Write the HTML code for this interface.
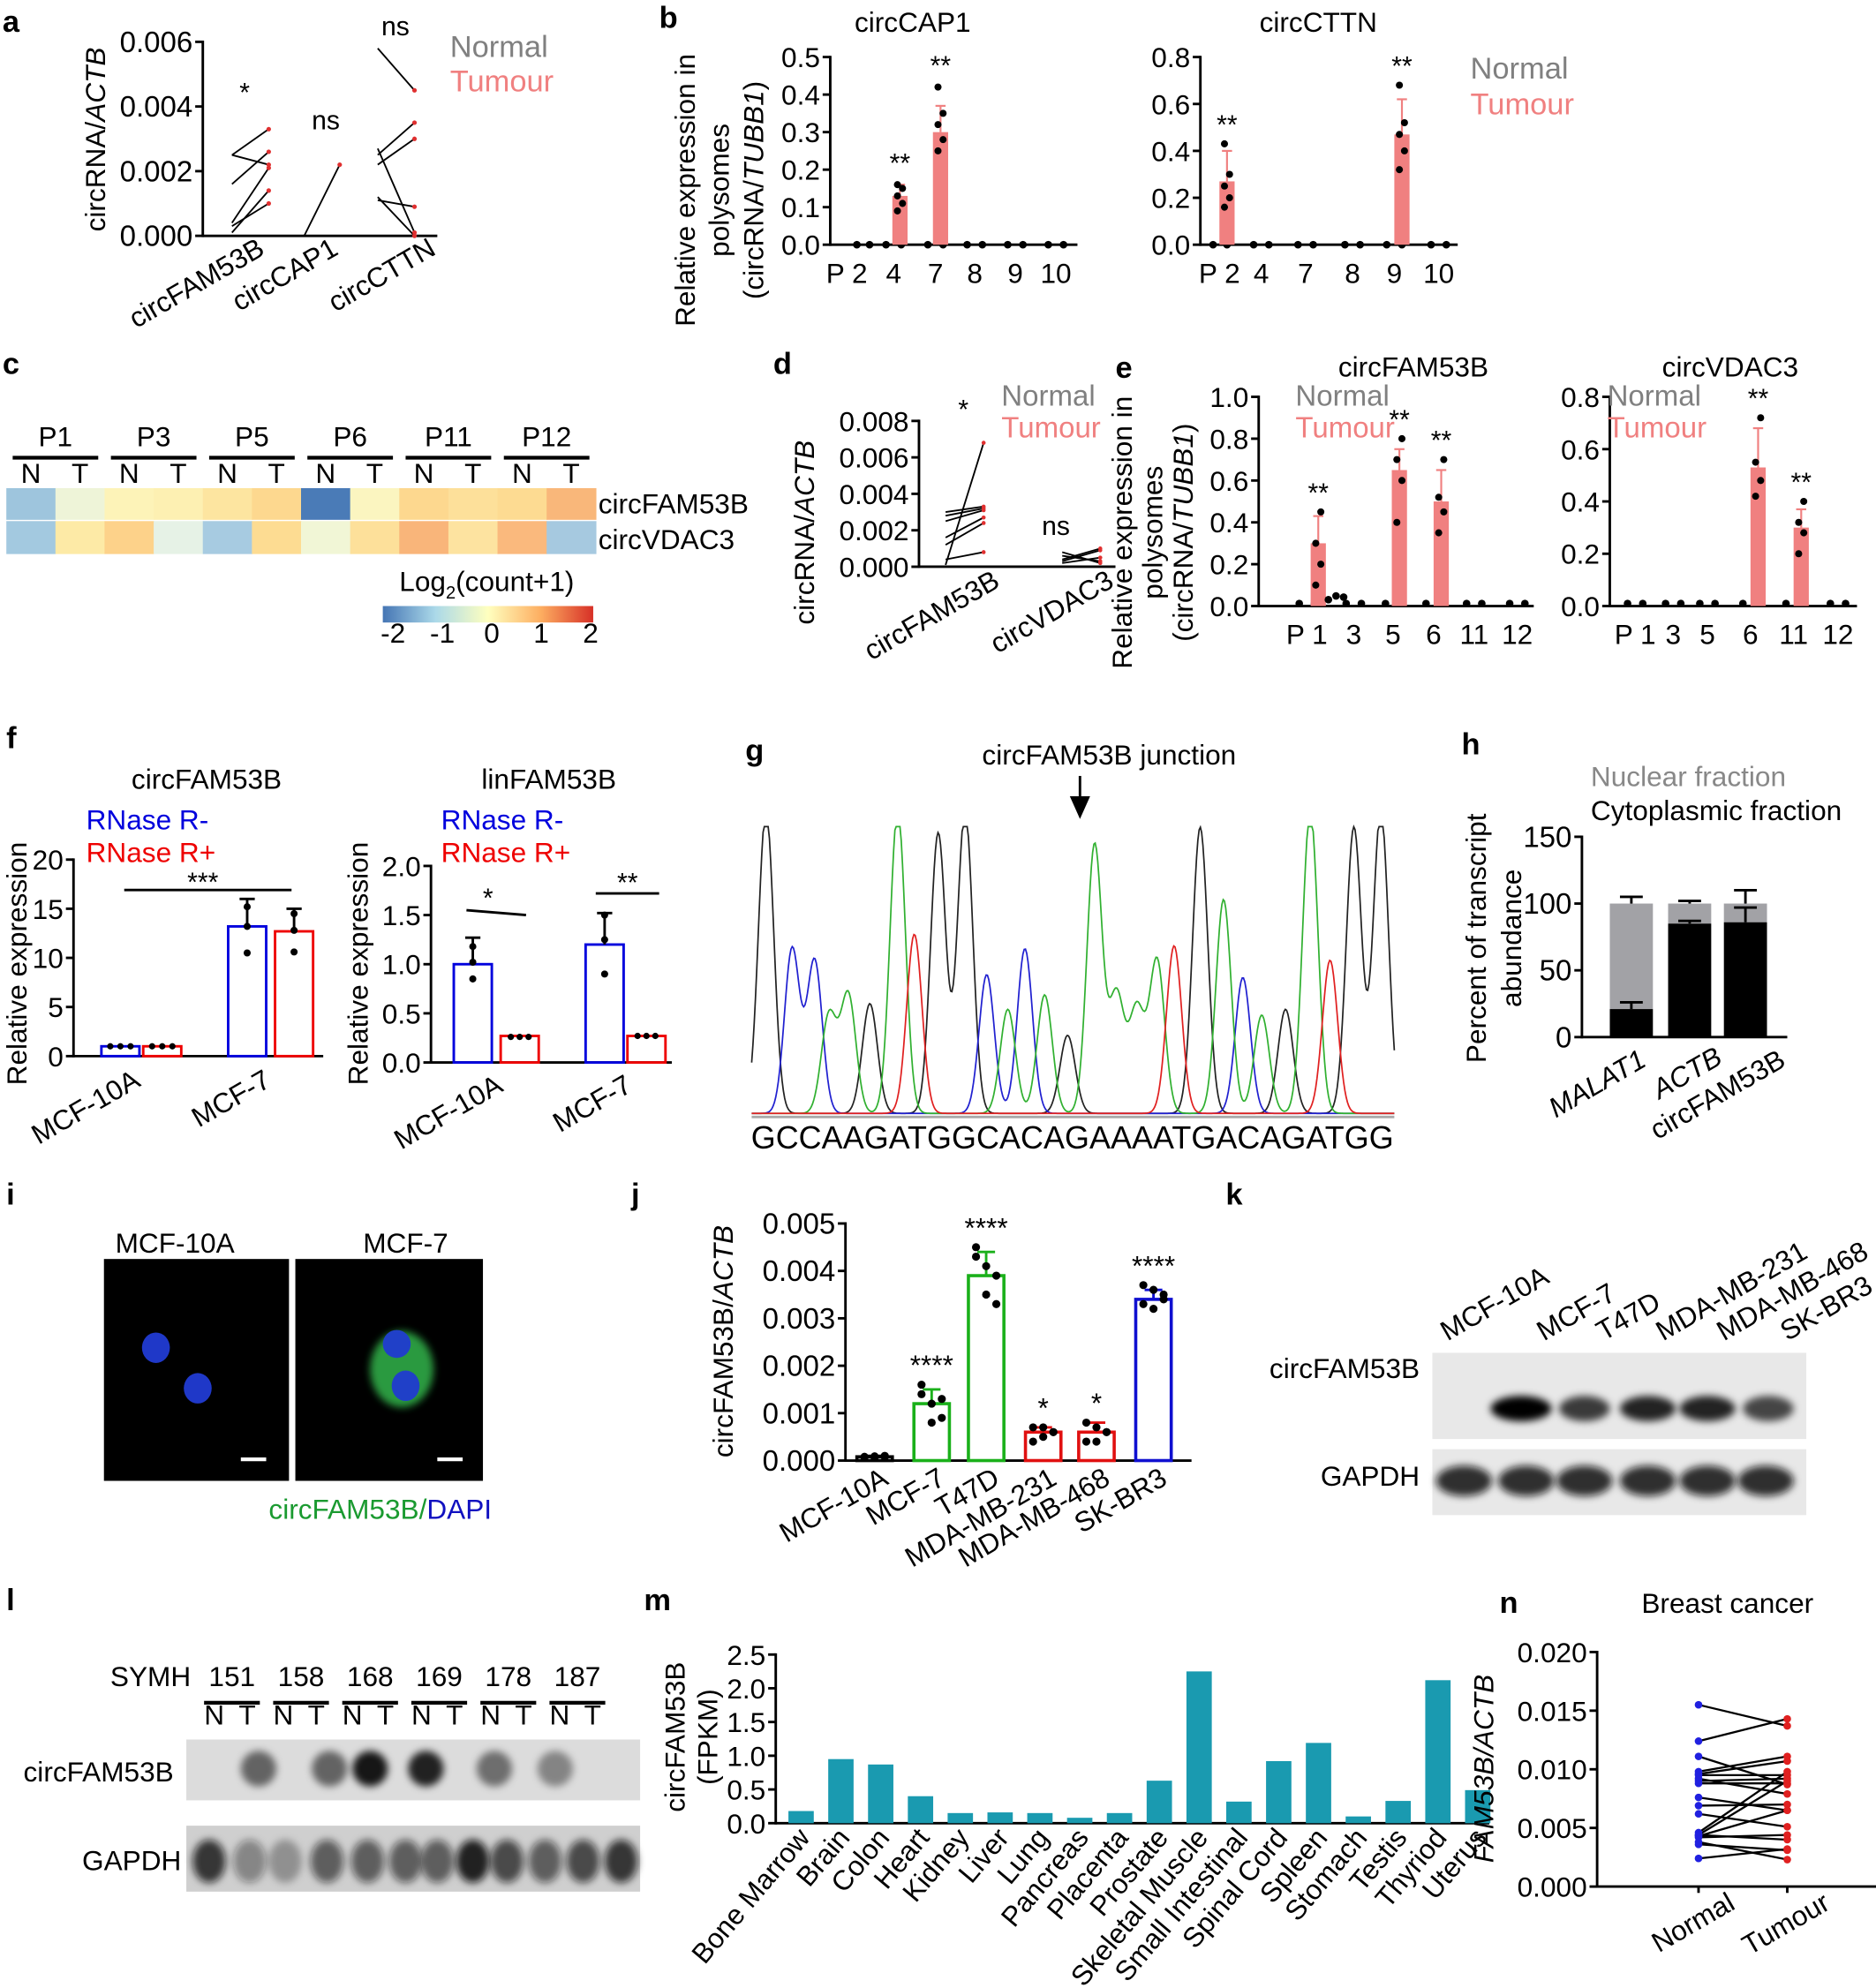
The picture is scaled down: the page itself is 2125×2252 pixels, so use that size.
<!DOCTYPE html>
<html><head><meta charset="utf-8">
<style>
html,body{margin:0;padding:0;background:#fff;width:2125px;height:2252px;overflow:hidden}
svg{display:block}
text{font-family:"Liberation Sans",Arial,sans-serif;fill:#000}
</style></head>
<body>
<svg id="s" xmlns="http://www.w3.org/2000/svg" width="2125" height="2252" viewBox="0 0 1480 1568" preserveAspectRatio="none">
<defs>
<filter id="bl" x="-50%" y="-50%" width="200%" height="200%"><feGaussianBlur stdDeviation="5"/></filter>
<filter id="bl2" x="-50%" y="-50%" width="200%" height="200%"><feGaussianBlur stdDeviation="3"/></filter>
<linearGradient id="cb" x1="0" x2="1" y1="0" y2="0">
<stop offset="0" stop-color="#4575b4"/><stop offset="0.25" stop-color="#abd9e9"/><stop offset="0.5" stop-color="#ffffbf"/><stop offset="0.75" stop-color="#fdae61"/><stop offset="1" stop-color="#d73027"/></linearGradient>
</defs>
<g id="g"></g>
<g font-size="24" font-weight="bold">
<text x="2" y="25">a</text><text x="520" y="22">b</text><text x="2" y="295">c</text><text x="610" y="295">d</text><text x="880" y="298">e</text>
<text x="5" y="590">f</text><text x="588" y="600">g</text><text x="1153" y="595">h</text><text x="5" y="950">i</text><text x="498" y="950">j</text><text x="967" y="950">k</text><text x="5" y="1270">l</text><text x="508" y="1270">m</text><text x="1183" y="1272">n</text>
</g>
</svg>
<script>
var G=document.getElementById('g'),NS='http://www.w3.org/2000/svg';
function el(t,a,txt){var e=document.createElementNS(NS,t);for(var k in a)e.setAttribute(k,a[k]);if(txt!==undefined)e.textContent=txt;G.appendChild(e);return e;}
function L(x1,y1,x2,y2,c,w){el('line',{x1:x1,y1:y1,x2:x2,y2:y2,stroke:c||'#000','stroke-width':w||2});}
function R(x,y,w,h,f,s,sw){el('rect',{x:x,y:y,width:w,height:h,fill:f||'none',stroke:s||'none','stroke-width':sw||0});}
function T(x,y,s,o){o=o||{};var a={x:x,y:y,'font-size':o.fs||21};if(o.a)a['text-anchor']=o.a;if(o.c)a.style='fill:'+o.c;if(o.r!==undefined)a.transform='rotate('+o.r+' '+x+' '+y+')';if(o.it)a['font-style']='italic';var e=el('text',a);e.innerHTML=s;return e;}
function C(x,y,r,f){el('circle',{cx:x,cy:y,r:r||3,fill:f||'#000'});}
function yax(x,yTop,yBot,labels,fs){L(x,yTop-1,x,yBot+1);var n=labels.length-1;for(var i=0;i<=n;i++){var y=yBot-(yBot-yTop)*i/n;L(x-6,y,x,y);T(x-8,y+8,labels[i],{a:'end',fs:fs||22});}}
var PINK='#f08080',GR='#808080';

// ---------- a ----------
yax(160,33,186,['0.000','0.002','0.004','0.006'],23);L(160,186,345,186);
T(83,110,'circRNA/<tspan font-style="italic">ACTB</tspan>',{a:'middle',r:-90,fs:22});
function ay(v){return 186-v/0.006*153;}
[[.0025,.0022],[.0025,.0033],[.0016,.0026],[.0004,.0021],[.0003,.0010],[.0001,.0014]].forEach(function(p){L(183,ay(p[0]),212,ay(p[1]),'#000',1.3);C(212,ay(p[1]),1.8,'#e03030');});
L(240,186,268,ay(.0022),'#000',1.3);C(268,ay(.0022),1.8,'#e03030');
[[.0058,.0045],[.0025,.0035],[.0022,.0030],[.0011,.0009],[.0012,.0000],[.0027,.0001]].forEach(function(p){L(298,ay(p[0]),327,ay(p[1]),'#000',1.3);C(327,ay(p[1]),1.8,'#e03030');});
T(193,80,'*',{a:'middle'});T(257,102,'ns',{a:'middle'});T(312,28,'ns',{a:'middle'});
T(355,45,'Normal',{c:GR,fs:24});T(355,72,'Tumour',{c:PINK,fs:24});
T(210,200,'circFAM53B',{a:'end',r:-30,fs:22});T(268,200,'circCAP1',{a:'end',r:-30,fs:22});T(345,200,'circCTTN',{a:'end',r:-30,fs:22});

// ---------- b ----------
T(548,150,'Relative expression in',{a:'middle',r:-90,fs:22});T(575,150,'polysomes',{a:'middle',r:-90,fs:22});
T(602,150,'(circRNA/<tspan font-style="italic">TUBB1</tspan>)',{a:'middle',r:-90,fs:22});
function by(yT,yB,max,v){return yB-(yB-yT)*v/max;}
(function(){var yT=45,yB=193,max=.5;yax(655,yT,yB,['0.0','0.1','0.2','0.3','0.4','0.5']);L(655,yB,850,yB);
 T(720,25,'circCAP1',{a:'middle',fs:22});
 var cats=[[668,'P 2'],[705,'4'],[738,'7'],[769,'8'],[801,'9'],[833,'10']];
 cats.forEach(function(c,i){var xn=c[0]-6,xt=c[0]+6;if(i==0){xn=676;xt=686;}C(xn,yB,3);C(xt,yB,3);T(c[0],yB+30,c[1],{a:'middle',fs:22});});
 [[710,.13,.16,[.09,.11,.13,.15,.16]],[742,.3,.37,[.25,.28,.32,.35,.42]]].forEach(function(b){var y=by(yT,yB,max,b[1]);R(b[0]-6,y,12,yB-y,PINK);L(b[0],y,b[0],by(yT,yB,max,b[2]),PINK,1.5);L(b[0]-4,by(yT,yB,max,b[2]),b[0]+4,by(yT,yB,max,b[2]),PINK,1.5);b[3].forEach(function(v,j){C(b[0]+(j%2?2:-2),by(yT,yB,max,v),2.8);});T(b[0],Math.min(by(yT,yB,max,b[2]),by(yT,yB,max,b[3][4]))-10,'**',{a:'middle'});});
})();
(function(){var yT=45,yB=193,max=.8;yax(947,yT,yB,['0.0','0.2','0.4','0.6','0.8']);L(947,yB,1150,yB);
 T(1040,25,'circCTTN',{a:'middle',fs:22});
 var cats=[[962,'P 2'],[995,'4'],[1030,'7'],[1067,'8'],[1100,'9'],[1135,'10']];
 cats.forEach(function(c,i){var xn=c[0]-6,xt=c[0]+6;if(i==0){xn=957;xt=968;}C(xn,yB,3);C(xt,yB,3);T(c[0],yB+30,c[1],{a:'middle',fs:22});});
 [[968,.27,.4,[.16,.2,.25,.3,.43]],[1106,.47,.62,[.32,.4,.47,.52,.68]]].forEach(function(b){var y=by(yT,yB,max,b[1]);R(b[0]-6,y,12,yB-y,PINK);L(b[0],y,b[0],by(yT,yB,max,b[2]),PINK,1.5);L(b[0]-4,by(yT,yB,max,b[2]),b[0]+4,by(yT,yB,max,b[2]),PINK,1.5);b[3].forEach(function(v,j){C(b[0]+(j%2?2:-2),by(yT,yB,max,v),2.8);});T(b[0],Math.min(by(yT,yB,max,b[2]),by(yT,yB,max,b[3][4]))-8,'**',{a:'middle'});});
 T(1160,62,'Normal',{c:GR,fs:24});T(1160,90,'Tumour',{c:PINK,fs:24});
})();

// ---------- c heatmap ----------
var r1=['#9ec5dd','#eef4d8','#fdf3b8','#fdf0b2','#fde5a0','#fdd88f','#4a7bb7','#fbf5c0','#fdd88f','#fde09a','#fddb92','#f9b77a'];
var r2=['#a3c9e0','#fdeaa6','#fdd28a','#e6f2e6','#a7cbe1','#fddc92','#f1f6d6','#fde09a','#f9b57a','#fde3a0','#fab97d','#a6c9e0'];
var cw=465/12;
for(var i=0;i<12;i++){R(5+i*cw,385,cw+.5,25,r1[i]);R(5+i*cw,411,cw+.5,26,r2[i]);T(5+i*cw+cw/2,381,i%2?'T':'N',{a:'middle',fs:22});}
['P1','P3','P5','P6','P11','P12'].forEach(function(p,i){T(5+(2*i+1)*cw,352,p,{a:'middle',fs:22});L(10+2*i*cw,361,2*(i+1)*cw,361,'#000',3);});
T(472,405,'circFAM53B',{fs:22});T(472,433,'circVDAC3',{fs:22});
T(315,466,'Log<tspan font-size="14" dy="6">2</tspan><tspan dy="-6">(count+1)</tspan>',{fs:22});
el('rect',{x:302,y:478,width:166,height:13,fill:'url(#cb)'});
['-2','-1','0','1','2'].forEach(function(t,i){T(310+i*39,507,t,{a:'middle',fs:22});});

// ---------- d ----------
yax(725,332,447,['0.000','0.002','0.004','0.006','0.008']);L(725,447,880,447);
T(642,420,'circRNA/<tspan font-style="italic">ACTB</tspan>',{a:'middle',r:-90,fs:22});
function dy(v){return 447-v/0.008*115;}
[[.0001,.0068],[.0028,.0032],[.003,.0033],[.0025,.0031],[.0012,.0024],[.0016,.0027],[.0004,.0008]].forEach(function(p){L(746,dy(p[0]),776,dy(p[1]),'#000',1.3);C(776,dy(p[1]),1.6,'#e03030');});
[[.0003,.0009],[.0008,.0002],[.0004,.0010],[.0002,.0005],[.0006,.0003]].forEach(function(p){L(838,dy(p[0]),868,dy(p[1]),'#000',1.3);C(868,dy(p[1]),1.6,'#e03030');});
T(760,330,'*',{a:'middle'});T(833,422,'ns',{a:'middle'});
T(790,320,'Normal',{c:GR,fs:23});T(790,345,'Tumour',{c:PINK,fs:23});
T(790,462,'circFAM53B',{a:'end',r:-30,fs:22});T(880,462,'circVDAC3',{a:'end',r:-30,fs:22});

// ---------- e ----------
T(893,420,'Relative expression in',{a:'middle',r:-90,fs:22});T(917,420,'polysomes',{a:'middle',r:-90,fs:22});
T(941,420,'(circRNA/<tspan font-style="italic">TUBB1</tspan>)',{a:'middle',r:-90,fs:22});
function ePanel(x0,xEnd,max,labels,cats,bars,title,tx,lx){var yT=313,yB=478;yax(x0,yT,yB,labels,22);L(x0,yB,xEnd,yB);
 T(tx,297,title,{a:'middle',fs:22});T(lx,320,'Normal',{c:GR,fs:23});T(lx,345,'Tumour',{c:PINK,fs:23});
 cats.forEach(function(c){C(c[0]-6,yB-2,3);C(c[0]+6,yB-2,3);T(c[0],yB+30,c[1],{a:'middle',fs:22});});
 bars.forEach(function(b){var y=by(yT,yB,max,b[1]);R(b[0]-6,y,12,yB-y,PINK);var ye=by(yT,yB,max,b[2]);L(b[0],y,b[0],ye,PINK,1.5);L(b[0]-4,ye,b[0]+4,ye,PINK,1.5);b[3].forEach(function(v,j){C(b[0]+(j%2?2:-2),by(yT,yB,max,v),2.8);});T(b[0],Math.min(ye,by(yT,yB,max,b[3][b[3].length-1]))-8,'**',{a:'middle'});});}
ePanel(993,1210,1.0,['0.0','0.2','0.4','0.6','0.8','1.0'],[[1031,'P 1'],[1068,'3'],[1099,'5'],[1131,'6'],[1163,'11'],[1197,'12']],
 [[1040,.3,.43,[.1,.2,.3,.45]],[1104,.65,.75,[.4,.6,.7,.8]],[1137,.5,.65,[.35,.45,.52,.7]]],'circFAM53B',1115,1022);
ePanel(1270,1465,0.8,['0.0','0.2','0.4','0.6','0.8'],[[1290,'P 1'],[1320,'3'],[1347,'5'],[1381,'6'],[1415,'11'],[1450,'12']],
 [[1387,.53,.68,[.42,.48,.55,.72]],[1421,.3,.37,[.2,.28,.32,.4]]],'circVDAC3',1365,1268);
C(1054,470,3);C(1048,473,3);C(1060,471,3);

// ---------- f ----------
(function(){var yT=678,yB=833;yax(58,yT,yB,['0','5','10','15','20'],22);L(58,yB,255,yB);
 T(21,760,'Relative expression',{a:'middle',r:-90,fs:22});T(163,622,'circFAM53B',{a:'middle',fs:22});
 T(68,654,'RNase R-',{c:'#0000dd',fs:22});T(68,680,'RNase R+',{c:'#ee0000',fs:22});
 function v(x){return yB-x/20*(yB-yT);}
 R(80,v(1),30,yB-v(1),'none','#0000dd',2);R(113,v(1),30,yB-v(1),'none','#ee0000',2);
 [87,95,103].forEach(function(x){C(x,v(1),2.5);});[120,128,136].forEach(function(x){C(x,v(1),2.5);});
 R(180,v(13.2),30,yB-v(13.2),'none','#0000dd',2);R(217,v(12.7),30,yB-v(12.7),'none','#ee0000',2);
 L(195,v(13.2),195,v(16));L(189,v(16),201,v(16));L(232,v(12.7),232,v(15));L(226,v(15),238,v(15));
 C(195,v(15.2),2.8);C(195,v(13.2),2.8);C(195,v(10.5),2.8);C(232,v(14.5),2.8);C(232,v(12.8),2.8);C(232,v(10.6),2.8);
 L(98,702,230,702,'#000',2);T(160,703,'***',{a:'middle'});
 T(112,856,'MCF-10A',{a:'end',r:-30,fs:22});T(215,856,'MCF-7',{a:'end',r:-30,fs:22});
})();
(function(){var yT=683,yB=838;yax(340,yT,yB,['0.0','0.5','1.0','1.5','2.0'],22);L(340,yB,530,yB);
 T(290,760,'Relative expression',{a:'middle',r:-90,fs:22});T(433,622,'linFAM53B',{a:'middle',fs:22});
 T(348,654,'RNase R-',{c:'#0000dd',fs:22});T(348,680,'RNase R+',{c:'#ee0000',fs:22});
 function v(x){return yB-x/2*(yB-yT);}
 R(358,v(1.0),30,yB-v(1.0),'none','#0000dd',2);R(395,v(.27),30,yB-v(.27),'none','#ee0000',2);
 R(462,v(1.2),30,yB-v(1.2),'none','#0000dd',2);R(495,v(.27),30,yB-v(.27),'none','#ee0000',2);
 L(373,v(1),373,v(1.27));L(367,v(1.27),379,v(1.27));L(477,v(1.2),477,v(1.52));L(471,v(1.52),483,v(1.52));
 C(373,v(1.18),2.8);C(373,v(1.02),2.8);C(373,v(.85),2.8);C(477,v(1.5),2.8);C(477,v(1.25),2.8);C(477,v(.9),2.8);
 [403,410,417].forEach(function(x){C(x,v(.26),2.5);});[503,510,517].forEach(function(x){C(x,v(.27),2.5);});
 L(368,v(1.55),415,v(1.5));T(385,v(1.58),'*',{a:'middle'});L(470,v(1.72),520,v(1.72));T(495,v(1.74),'**',{a:'middle'});
 T(398,860,'MCF-10A',{a:'end',r:-30,fs:22});T(500,860,'MCF-7',{a:'end',r:-30,fs:22});
})();

// ---------- g chromatogram ----------
T(875,603,'circFAM53B junction',{a:'middle',fs:22});
L(852,612,852,630,'#000',2);el('polygon',{points:'844,628 860,628 852,646',fill:'#000'});
var cols={k:'#222',b:'#2020d0',g:'#30b030',r:'#e02020'};
var pk=[[92,'k',1.05],[150,'b',.57],[200,'b',.53],[232,'g',.34],[275,'g',.41],[323,'k',.38],[385,'g',1.05],[422,'r',.62],[475,'k',.97],[535,'k',1.05],[583,'b',.48],[630,'g',.36],[668,'b',.57],[712,'g',.41],[763,'k',.27],[823,'g',.93],[872,'g',.41],[917,'g',.36],[962,'g',.53],[1000,'r',.58],[1058,'k',.99],[1110,'g',.74],[1153,'b',.47],[1195,'g',.34],[1248,'k',.36],[1303,'g',1.05],[1347,'r',.53],[1400,'k',.99],[1460,'k',1.05]];
var base=880,H=228,top0=652;
['k','b','g','r'].forEach(function(c){var d='';for(var x=593;x<=1100;x+=1){var y=0;pk.forEach(function(p){if(p[1]!=c)return;var px=593+(p[0]-60)/1430*507,s=6;y+=p[2]*Math.exp(-(x-px)*(x-px)/(2*s*s));});y+=0.008;var Y=Math.max(top0,base-y*H);d+=(d?'L':'M')+x+' '+Y.toFixed(1);}el('path',{d:d,fill:'none',stroke:cols[c],'stroke-width':1.2});});
L(593,881,1100,881,'#aaa',2);
T(846,906,'GCCAAGATGGCACAGAAAATGACAGATGG',{a:'middle',fs:25}).setAttribute('textLength','507');

// ---------- h ----------
(function(){var yT=660,yB=818;yax(1248,yT,yB,['0','50','100','150'],23);L(1248,yB,1410,yB);
 T(1172,740,'Percent of transcript',{a:'middle',r:-90,fs:22});T(1200,740,'abundance',{a:'middle',r:-90,fs:22});
 T(1255,620,'Nuclear fraction',{c:'#888',fs:22});T(1255,647,'Cytoplasmic fraction',{fs:22});
 function v(x){return yB-x/150*(yB-yT);}
 [[1270,21,26,105],[1316,85,87,102],[1360,86,97,110]].forEach(function(b){R(b[0],v(100),34,v(b[1])-v(100),'#a2a2a6');R(b[0],v(b[1]),34,yB-v(b[1]),'#000');
  var cx=b[0]+17;L(cx,v(100),cx,v(b[3]));L(cx-9,v(b[3]),cx+9,v(b[3]));L(cx,v(b[1]),cx,v(b[2]));L(cx-9,v(b[2]),cx+9,v(b[2]));});
 T(1300,840,'MALAT1',{a:'end',r:-30,fs:22,it:1});T(1360,838,'ACTB',{a:'end',r:-30,fs:22,it:1});T(1410,840,'circFAM53B',{a:'end',r:-30,fs:22});
})();

// ---------- i ----------
R(82,993,146,175,'#000');R(233,993,148,175,'#000');
T(138,988,'MCF-10A',{a:'middle',fs:22});T(320,988,'MCF-7',{a:'middle',fs:22});
el('ellipse',{cx:123,cy:1063,rx:11,ry:12,fill:'#1f38c8'});el('ellipse',{cx:156,cy:1095,rx:11,ry:12,fill:'#1f38c8'});
el('ellipse',{cx:317,cy:1080,rx:25,ry:30,fill:'#2a9a40',filter:'url(#bl2)'});
el('ellipse',{cx:313,cy:1060,rx:11,ry:11,fill:'#2040c8'});el('ellipse',{cx:320,cy:1093,rx:11,ry:12,fill:'#2040c8'});
L(190,1151,210,1151,'#fff',3);L(345,1151,365,1151,'#fff',3);
T(300,1198,'<tspan style="fill:#1a9a30">circFAM53B/</tspan><tspan style="fill:#1010c0">DAPI</tspan>',{a:'middle',fs:22});

// ---------- j ----------
(function(){var yT=965,yB=1152;yax(667,yT,yB,['0.000','0.001','0.002','0.003','0.004','0.005'],23);L(667,yB,940,yB);
 T(578,1058,'circFAM53B/<tspan font-style="italic">ACTB</tspan>',{a:'middle',r:-90,fs:22});
 function v(x){return yB-x/0.005*(yB-yT);}
 var bars=[[690,.00008,'#000',.0001,'',[.00008,.00006,.0001,.00007,.00009,.00008]],
  [735,.0012,'#1ab01a',.0015,'****',[.0016,.0012,.0009,.0014,.0008,.0013]],
  [778,.0039,'#1ab01a',.0044,'****',[.0045,.0041,.0033,.0043,.0035,.0039]],
  [823,.0006,'#e01010',.0007,'*',[.0007,.0005,.0006,.0004,.0007,.0006]],
  [865,.0006,'#e01010',.0008,'*',[.0008,.0004,.0006,.0004,.0007,.0006]],
  [910,.0034,'#1010d0',.0036,'****',[.0037,.0032,.0035,.0033,.0036,.0034]]];
 bars.forEach(function(b,i){R(b[0]-14,v(b[1]),28,yB-v(b[1]),'none',b[2],2.5);L(b[0],v(b[1]),b[0],v(b[3]),b[2],2);L(b[0]-7,v(b[3]),b[0]+7,v(b[3]),b[2],2);
  var mx=b[3];b[5].forEach(function(d,k){C(b[0]+(k%3-1)*8,v(d),3.2);if(d>mx)mx=d;});
  if(b[4])T(b[0],v(mx)-8,b[4],{a:'middle',fs:22});});
 ['MCF-10A','MCF-7','T47D','MDA-MB-231','MDA-MB-468','SK-BR3'].forEach(function(s,i){T(bars[i][0]+12,1170,s,{a:'end',r:-30,fs:22});});
})();

// ---------- k ----------
R(1130,1067,295,68,'#e8e8e8');R(1130,1143,295,52,'#e8e8e8');
T(1120,1087,'circFAM53B',{a:'end',fs:22});T(1120,1172,'GAPDH',{a:'end',fs:22});
[[1200,1.0,24],[1250,.75,20],[1300,.85,22],[1347,.85,22],[1395,.7,20]].forEach(function(b){el('ellipse',{cx:b[0],cy:1111,rx:b[2],ry:10,fill:'#000','fill-opacity':b[1],filter:'url(#bl2)'});});
[1155,1204,1250,1300,1347,1393].forEach(function(x){el('ellipse',{cx:x,cy:1168,rx:22,ry:12,fill:'#111','fill-opacity':.85,filter:'url(#bl2)'});});
['MCF-10A','MCF-7','T47D','MDA-MB-231','MDA-MB-468','SK-BR3'].forEach(function(s,i){var x=[1142,1218,1265,1312,1360,1410][i];T(x,1058,s,{r:-30,fs:22});});

// ---------- l ----------
R(147,1372,358,48,'#dcdcdc');R(147,1440,358,52,'#cfcfcf');
T(137,1405,'circFAM53B',{a:'end',fs:22});T(143,1475,'GAPDH',{a:'end',fs:22});
[[204,.55],[260,.55],[292,.9],[336,.85],[390,.5],[438,.4]].forEach(function(b){el('ellipse',{cx:b[0],cy:1395,rx:14,ry:14,fill:'#000','fill-opacity':b[1],filter:'url(#bl2)'});});
[165,197,225,258,290,320,345,373,400,430,460,490].forEach(function(x,i){el('ellipse',{cx:x,cy:1468,rx:13,ry:17,fill:'#111','fill-opacity':[.8,.4,.3,.6,.6,.6,.6,.9,.7,.6,.7,.8][i],filter:'url(#bl2)'});});
T(87,1330,'SYMH',{fs:22});
['151','158','168','169','178','187'].forEach(function(s,i){var x=183+i*54.5;T(x,1330,s,{a:'middle',fs:22});L(x-22,1343,x+22,1343,'#000',3);T(x-14,1360,'N',{a:'middle',fs:22});T(x+12,1360,'T',{a:'middle',fs:22});});

// ---------- m ----------
(function(){var yT=1305,yB=1438;yax(612,yT,yB,['0.0','0.5','1.0','1.5','2.0','2.5']);L(612,yB,1175,yB);
 T(540,1370,'circFAM53B',{a:'middle',r:-90,fs:22});T(566,1370,'(FPKM)',{a:'middle',r:-90,fs:22});
 var vals=[.18,.95,.87,.4,.15,.16,.15,.08,.15,.63,2.25,.32,.92,1.19,.1,.33,2.12,.49];
 var names=['Bone Marrow','Brain','Colon','Heart','Kidney','Liver','Lung','Pancreas','Placenta','Prostate','Skeletal Muscle','Small Intestinal','Spinal Cord','Spleen','Stomach','Testis','Thyriod','Uterus'];
 vals.forEach(function(v,i){var x=632+i*31.4;var y=yB-v/2.5*(yB-yT);R(x-10,y,20,yB-y,'#1a9ab0');T(x+8,1450,names[i],{a:'end',r:-50,fs:22});});
})();

// ---------- n ----------
(function(){var yT=1303,yB=1488;yax(1260,yT,yB,['0.000','0.005','0.010','0.015','0.020'],22);L(1260,yB,1480,yB);
 T(1295,1272,'Breast cancer',{fs:22});
 T(1178,1395,'<tspan font-style="italic">FAM53B/ACTB</tspan>',{a:'middle',r:-90,fs:22});
 function v(x){return yB-x/0.02*(yB-yT);}
 var pr=[[.0155,.0137],[.0124,.0143],[.0111,.0087],[.0098,.0111],[.0096,.0107],[.0092,.0079],[.0090,.0092],[.0088,.0088],[.0076,.0065],[.0069,.0070],[.0062,.0051],[.0046,.0098],[.0044,.0090],[.0043,.0065],[.0042,.0044],[.0038,.0023],[.0036,.0031],[.0024,.0032],[.0044,.0040],[.0095,.0095]];
 pr.forEach(function(p){L(1340,v(p[0]),1410,v(p[1]),'#000',1.6);});
 pr.forEach(function(p){C(1340,v(p[0]),3,'#2020e0');C(1410,v(p[1]),3,'#e02020');});
 L(1340,yB,1340,yB+5);L(1410,yB,1410,yB+5);
 T(1370,1505,'Normal',{a:'end',r:-30,fs:22});T(1445,1505,'Tumour',{a:'end',r:-30,fs:22});
})();
</script>
</body></html>
